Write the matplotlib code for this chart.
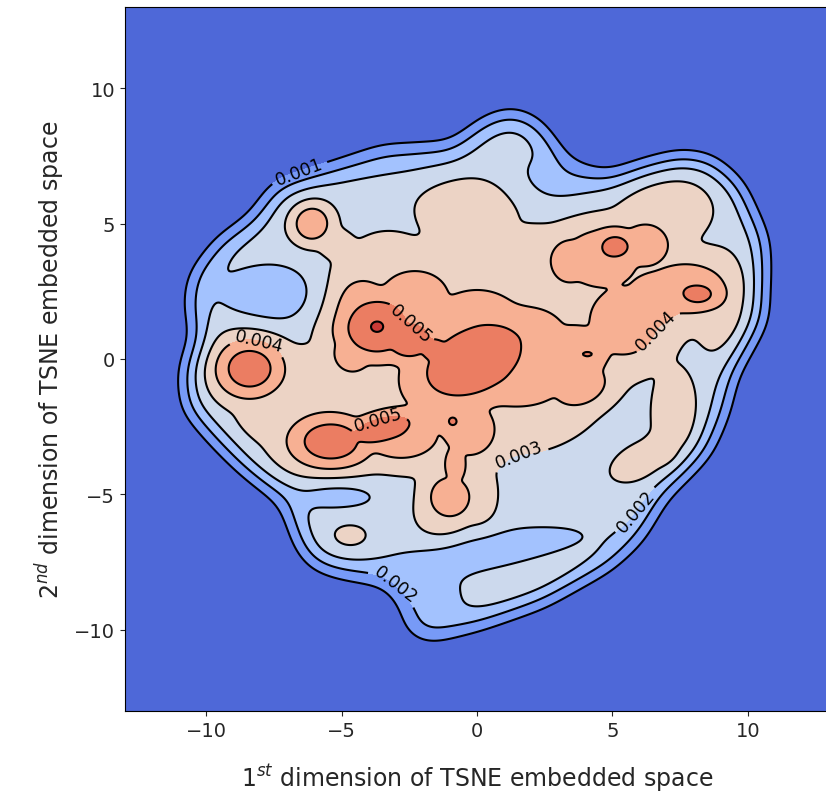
import numpy as np
import matplotlib
matplotlib.use('Agg')
import matplotlib.pyplot as plt
from matplotlib.path import Path

# outline of the embedded point cloud (TSNE units)
outline_x = [0.4, 1.3, 2.2, 3.3, 4.8, 6.0, 7.5, 8.6, 9.65, 10.6, 10.5, 9.4, 9.1, 8.45,
             6.8, 6.0, 4.85, 2.45, 0.05, -1.85, -2.5, -2.6, -3.2, -5.0, -6.0, -6.5,
             -7.05, -8.7, -9.75, -10.7, -10.8, -10.3, -10.6, -10.45, -9.45, -8.25,
             -7.4, -5.6, -3.5, -0.9]
outline_y = [8.8, 9.1, 8.7, 7.2, 6.7, 7.1, 7.5, 7.35, 6.45, 4.35, 1.4, -0.55, -1.95, -3.45,
             -5.1, -6.55, -7.6, -8.95, -9.8, -10.3, -9.95, -9.15, -8.2, -7.9, -7.6, -6.9,
             -5.3, -3.95, -2.9, -1.8, -0.4, 0.85, 1.96, 3.05, 4.35, 5.15,
             6.4, 7.0, 7.7, 7.8]

# dense groups of points: centre, spread, tilt (deg), height above the base density
# salmon-level groups
mid_x = [-4.3, -2.3, 0.0, 2.0, 3.6, 5.4, 7.7, 4.6, 6.2, 3.4, 1.5, -0.3, -1.0, -2.8,
         -5.5, -1.3, -4.6, 3.8, 6.5, -6.1, -0.8]
mid_y = [1.8, 2.3, 1.6, 0.9, 0.2, 1.4, 2.6, 3.7, 4.2, 3.6, -0.9, -2.6, -5.1, -2.8,
         -2.9, -0.6, 0.2, -1.0, 2.2, 5.0, -3.9]
mid_sx = [1.1, 1.3, 1.5, 1.3, 1.3, 1.3, 1.5, 1.4, 0.9, 0.7, 1.7, 1.0, 0.75, 1.4,
          1.3, 1.3, 0.7, 1.0, 1.0, 0.6, 0.4]
mid_sy = [1.2, 1.0, 1.0, 1.0, 1.1, 1.3, 0.95, 1.1, 0.8, 0.8, 0.9, 1.0, 0.75, 0.9,
          0.9, 1.2, 0.7, 0.7, 1.0, 0.6, 0.7]
mid_angle = [0, 0, 0, 0, 0, 0, 0, 0, 0, 0, 0, 0, 0, 0,
             0, 0, 0, 20, 0, 0, 0]
mid_h = [0.0018] * 21

# pale-pink-level groups
low_x = [-0.3, 6.8, 9.0, 7.3, 6.1, 2.5, -1.2, -4.5, -6.5, -4.8, -5.2, 2.2, 0.0, -7.8,
         -4.7, -0.8, -3.3, 6.9, 1.9]
low_y = [5.6, 5.4, 2.0, -2.0, -3.75, -2.3, -5.4, -3.3, -0.8, 2.6, 4.2, 3.8, -5.0, -2.4,
         -6.55, 3.6, 3.9, -3.4, -8.0]
low_sx = [1.5, 1.5, 0.8, 0.65, 0.95, 1.6, 0.9, 2.0, 1.6, 0.6, 0.7, 1.3, 0.6, 1.0,
          0.7, 1.3, 0.9, 0.6, 1.6]
low_sy = [1.1, 1.05, 1.4, 1.3, 0.5, 0.8, 1.2, 0.7, 1.0, 1.0, 0.5, 0.9, 1.0, 0.6,
          0.5, 0.8, 0.6, 0.6, 0.45]
low_angle = [0, 15, 0, 0, 25, 20, 0, 0, 0, 0, -30, 0, 0, -30,
             0, 0, 0, 0, 20]
low_h = [0.001, 0.001, 0.001, 0.001, 0.001, 0.0009, 0.0009, 0.0009,
         0.001, 0.001, 0.0009, 0.001, 0.0009, 0.0009, 0.0006, 0.001, 0.001, 0.0009, 0.0003]

# densest groups
top_x = [-3.7, -0.1, -5.4, -3.5, -8.4, 5.1, 8.15, -0.9, 4.1, -2.5, -1.6]
top_y = [1.2, -0.05, -3.05, -2.6, -0.35, 4.15, 2.4, -2.3, 0.18, 0.7, 0.35]
top_sx = [1.3, 2.3, 1.3, 1.5, 1.05, 0.85, 0.9, 0.6, 0.7, 1.0, 0.7]
top_sy = [1.1, 1.45, 0.85, 0.6, 0.9, 0.65, 0.55, 0.6, 0.35, 0.8, 0.6]
top_angle = [0, 25, 0, 15, 0, 0, 0, 0, 0, 0, 0]
top_h = [0.0027, 0.0026, 0.0025, 0.0024, 0.0025, 0.0022, 0.0022, 0.00195, 0.00193, 0.0025, 0.0023]

# sparse gaps inside the cloud
gap_x = [-7.5, 0.3, -5.2, -1.6, 3.0, -2.5]
gap_y = [2.35, -7.1, -5.0, -9.0, 6.6, 7.2]
gap_sx = [1.4, 2.6, 1.3, 1.0, 1.3, 2.5]
gap_sy = [0.8, 0.5, 0.45, 0.8, 0.7, 0.6]
gap_angle = [0, 8, 0, 20, 0, 0]
gap_h = [-0.0010, -0.0010, -0.0008, -0.0007, -0.0007, -0.0004]

base_density = 0.0026
bandwidth = 0.5
levels = np.linspace(0, 0.006, 9)

# label spots for the contour lines: (level index, x, y)
label_spots = [(1, -6.6, 7.0), (5, -8.05, 0.74), (6, -2.45, 1.3), (6, -3.6, -2.4),
               (5, 6.55, 1.1), (4, 1.6, -3.8), (3, 5.8, -5.55), (2, -2.7, -7.95)]

xs = np.linspace(-13, 13, 521)
X, Y = np.meshgrid(xs, xs)


def gauss(x0, y0, sx, sy, ang):
    t = np.deg2rad(ang)
    dx, dy = X - x0, Y - y0
    u = dx * np.cos(t) + dy * np.sin(t)
    v = -dx * np.sin(t) + dy * np.cos(t)
    return np.exp(-0.5 * ((u / sx) ** 2 + (v / sy) ** 2))


inside = Path(np.column_stack([outline_x, outline_y])).contains_points(
    np.column_stack([X.ravel(), Y.ravel()])).reshape(X.shape).astype(float)
step = xs[1] - xs[0]
n = int(4 * bandwidth / step)
kern = np.exp(-0.5 * (np.arange(-n, n + 1) * step / bandwidth) ** 2)
kern /= kern.sum()
smooth = np.apply_along_axis(lambda r: np.convolve(r, kern, mode='same'), 0, inside)
smooth = np.apply_along_axis(lambda r: np.convolve(r, kern, mode='same'), 1, smooth)

tau = 0.00012
acc = np.zeros_like(X)
groups = [(mid_x, mid_y, mid_sx, mid_sy, mid_angle, mid_h),
          (low_x, low_y, low_sx, low_sy, low_angle, low_h),
          (top_x, top_y, top_sx, top_sy, top_angle, top_h)]
for gx, gy, gsx, gsy, ga, gh in groups:
    for i in range(len(gx)):
        acc += np.expm1(gh[i] * gauss(gx[i], gy[i], gsx[i], gsy[i], ga[i]) / tau)
lift = tau * np.log1p(acc)
dip = np.zeros_like(X)
for i in range(len(gap_x)):
    dip += gap_h[i] * gauss(gap_x[i], gap_y[i], gap_sx[i], gap_sy[i], gap_angle[i])
density = np.clip((base_density + lift + dip) * smooth, 0, levels[-1] * 0.999)

fig = plt.figure(figsize=(8.26, 8.03), dpi=100)
ax = fig.add_axes([125 / 826, 91 / 803, 704 / 826, 704 / 803])
ax.contourf(X, Y, density, levels=levels, cmap='coolwarm')


def fmt(v):
    return '%.3f' % (v + 1e-9)


# one line set per level so each label lands on its own level
for li in range(1, len(levels) - 1):
    cs = ax.contour(X, Y, density, levels=[levels[li]], colors='black', linewidths=1.5)
    spots = [(lx, ly) for k, lx, ly in label_spots if k == li]
    if spots:
        cs.clabel(manual=spots, inline=True, fontsize=12.5, fmt=fmt)

ax.set_xlim(-13, 13)
ax.set_ylim(-13, 13)
ax.set_xticks([-10, -5, 0, 5, 10])
ax.set_yticks([-10, -5, 0, 5, 10])
ax.tick_params(labelsize=14, colors='#262626')
ax.set_xlabel(r'$1^{st}$ dimension of TSNE embedded space', fontsize=17, color='#262626', labelpad=16)
ax.set_ylabel(r'$2^{nd}$ dimension of TSNE embedded space', fontsize=17, color='#262626', labelpad=5)

fig.savefig('out.png', dpi=100)
